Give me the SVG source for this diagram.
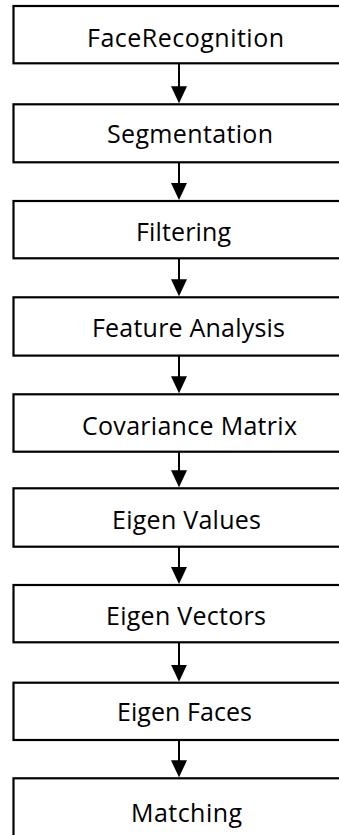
<svg xmlns="http://www.w3.org/2000/svg" width="339" height="835" viewBox="0 0 339 835">
  <defs>
    <style>
      .box { fill: #ffffff; stroke: #000000; stroke-width: 2.2; }
      .lbl { font-family: "Open Sans", "Liberation Sans", sans-serif; font-size: 25px; fill: #000000; text-anchor: middle; }
      .conn { stroke: #000000; stroke-width: 2; fill: none; marker-end: url(#arrow); }
    </style>
    <marker id="arrow" markerUnits="userSpaceOnUse" viewBox="0 0 17 16" markerWidth="17" markerHeight="16" refX="9" refY="8" orient="auto">
      <path d="M0,0 L17,8 L0,16 z" fill="#000000"/>
    </marker>
  </defs>
  <rect width="339" height="835" fill="#ffffff"/>
  <g id="connectors">
    <path class="conn" d="M179,63 V95.3"/>
    <path class="conn" d="M179,162.3 V192"/>
    <path class="conn" d="M179,258.3 V288.3"/>
    <path class="conn" d="M179,355.6 V385.3"/>
    <path class="conn" d="M179,451.7 V479.3"/>
    <path class="conn" d="M179,546.7 V576"/>
    <path class="conn" d="M179,642.3 V673.7"/>
    <path class="conn" d="M179,740 V769.3"/>
  </g>
  <g id="node-face-recognition">
    <rect class="box" x="13.5" y="6" width="360" height="57.3"/>
    <text class="lbl" x="185.5" y="46.7" textLength="197">FaceRecognition</text>
  </g>
  <g id="node-segmentation">
    <rect class="box" x="13.5" y="104.3" width="360" height="58"/>
    <text class="lbl" x="190" y="143.3" textLength="166">Segmentation</text>
  </g>
  <g id="node-filtering">
    <rect class="box" x="13.5" y="201" width="360" height="57.3"/>
    <text class="lbl" x="183.5" y="241" textLength="95">Filtering</text>
  </g>
  <g id="node-feature-analysis">
    <rect class="box" x="13.5" y="297.3" width="360" height="58.3"/>
    <text class="lbl" x="188.5" y="337.3" textLength="193">Feature Analysis</text>
  </g>
  <g id="node-covariance-matrix">
    <rect class="box" x="13.5" y="394.3" width="360" height="57.4"/>
    <text class="lbl" x="189.5" y="435" textLength="215">Covariance Matrix</text>
  </g>
  <g id="node-eigen-values">
    <rect class="box" x="13.5" y="488.3" width="360" height="58.4"/>
    <text class="lbl" x="186.5" y="528.5" textLength="149">Eigen Values</text>
  </g>
  <g id="node-eigen-vectors">
    <rect class="box" x="13.5" y="585" width="360" height="57.3"/>
    <text class="lbl" x="186" y="625" textLength="160">Eigen Vectors</text>
  </g>
  <g id="node-eigen-faces">
    <rect class="box" x="13.5" y="682.7" width="360" height="57.3"/>
    <text class="lbl" x="184.5" y="720.7" textLength="135">Eigen Faces</text>
  </g>
  <g id="node-matching">
    <rect class="box" x="13.5" y="778.3" width="360" height="80"/>
    <text class="lbl" x="186.5" y="821.7" textLength="111">Matching</text>
  </g>
</svg>
